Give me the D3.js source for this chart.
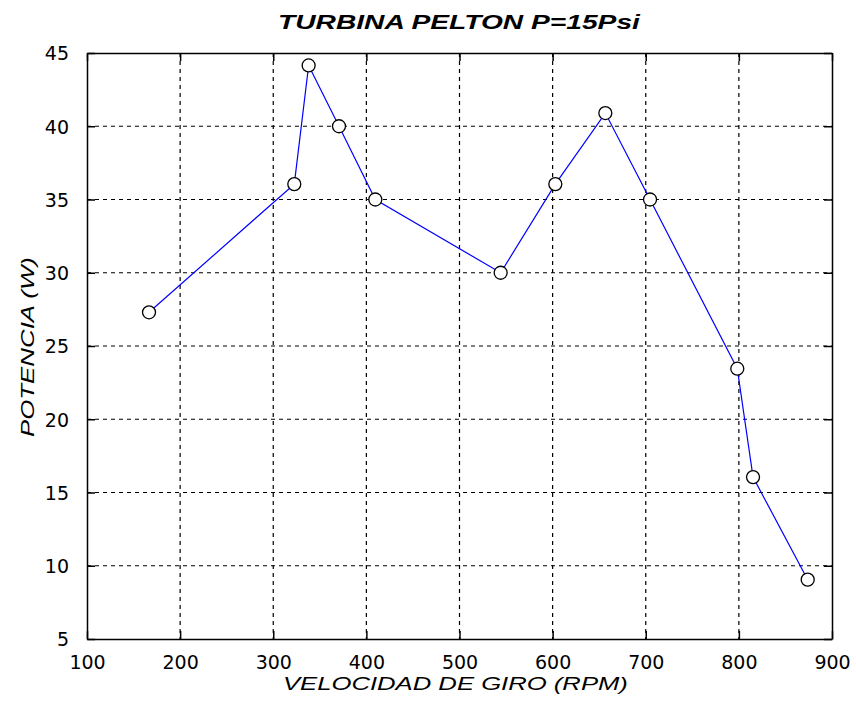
<!DOCTYPE html>
<html><head><meta charset="utf-8">
<script src="https://cdn.jsdelivr.net/npm/d3@7"></script>
<style>body{margin:0;background:#fff}svg{display:block}text{font-family:"DejaVu Sans",sans-serif}</style>
</head><body>
<svg id="c" width="856" height="711"></svg>
<script>
const rpm = [166.6, 322.6, 338, 370.6, 409.6, 544.2, 602.9, 656.6, 704.6, 798.3, 815.2, 873.9];
const potencia = [27.3, 36.05, 44.15, 40.0, 35.0, 30.0, 36.05, 40.9, 35.0, 23.45, 16.05, 9.05];
const xTicks = [100, 200, 300, 400, 500, 600, 700, 800, 900];
const yTicks = [5, 10, 15, 20, 25, 30, 35, 40, 45];
const title = "TURBINA PELTON P=15Psi";
const xLabel = "VELOCIDAD DE GIRO (RPM)";
const yLabel = "POTENCIA (W)";

const L = 87, R = 832, T = 53, B = 639;
const svg = d3.select("#c");
const x = d3.scaleLinear().domain([100, 900]).range([L, R]);
const y = d3.scaleLinear().domain([5, 45]).range([B, T]);

const g = svg.append("g");
g.selectAll("line.vg").data(xTicks.slice(1, -1)).join("line")
  .attr("x1", d => x(d)).attr("x2", d => x(d)).attr("y1", T).attr("y2", B)
  .attr("stroke", "#000").attr("stroke-width", 1.2).attr("stroke-dasharray", "4,4");
g.selectAll("line.hg").data(yTicks.slice(1, -1)).join("line").attr("class","hg")
  .attr("y1", d => y(d)).attr("y2", d => y(d)).attr("x1", L).attr("x2", R)
  .attr("stroke", "#000").attr("stroke-width", 1.2).attr("stroke-dasharray", "4,4");

const tk = 8;
const xb = svg.append("g").attr("transform", `translate(0,${B})`)
  .call(d3.axisBottom(x).tickValues(xTicks).tickSizeInner(-tk).tickSizeOuter(0).tickPadding(tk + 9));
const xt = svg.append("g").attr("transform", `translate(0,${T})`)
  .call(d3.axisTop(x).tickValues(xTicks).tickSizeInner(-tk).tickSizeOuter(0).tickFormat(""));
const yl = svg.append("g").attr("transform", `translate(${L},0)`)
  .call(d3.axisLeft(y).tickValues(yTicks).tickSizeInner(-tk).tickSizeOuter(0).tickPadding(tk + 10));
const yr = svg.append("g").attr("transform", `translate(${R},0)`)
  .call(d3.axisRight(y).tickValues(yTicks).tickSizeInner(-tk).tickSizeOuter(0).tickFormat(""));
[xb, xt, yl, yr].forEach(a => {
  a.selectAll("path").attr("stroke", "#000").attr("stroke-width", 1.5);
  a.selectAll("line").attr("stroke", "#000").attr("stroke-width", 1.5);
  a.selectAll("text").attr("fill", "#000").style("font-size", "19px").style("font-family", '"DejaVu Sans",sans-serif');
});
xb.selectAll("text").attr("dy", "0.71em");
yl.selectAll("text").attr("dy", "0.36em");

const line = d3.line().x((d, i) => x(rpm[i])).y(d => y(d));
svg.append("path").datum(potencia).attr("d", line)
  .attr("fill", "none").attr("stroke", "#0000ff").attr("stroke-width", 1.2);
svg.selectAll("circle.m").data(potencia).join("circle")
  .attr("cx", (d, i) => x(rpm[i])).attr("cy", d => y(d)).attr("r", 6.5)
  .attr("fill", "#fff").attr("stroke", "#000").attr("stroke-width", 1.3);

// stretched label helper: draw at origin then scale horizontally to a target width
function label(txt, size, weight, tx, ty, rot, width) {
  const outer = svg.append("g").attr("transform", `translate(${tx},${ty}) rotate(${rot})`);
  const inner = outer.append("g");
  const t = inner.append("text").attr("x", 0).attr("y", 0)
    .style("font-family", '"Liberation Sans",Arial,sans-serif')
    .style("font-size", size + "px").style("font-weight", weight).style("font-style", "italic").text(txt);
  const w = t.node().getComputedTextLength();
  inner.attr("transform", `scale(${width / w},1)`);
}
label(title, 21, "bold", 278, 29, 0, 362);
label(xLabel, 18, "normal", 283, 690, 0, 345);
label(yLabel, 18, "normal", 34, 437, -90, 180);
</script>
</body></html>
